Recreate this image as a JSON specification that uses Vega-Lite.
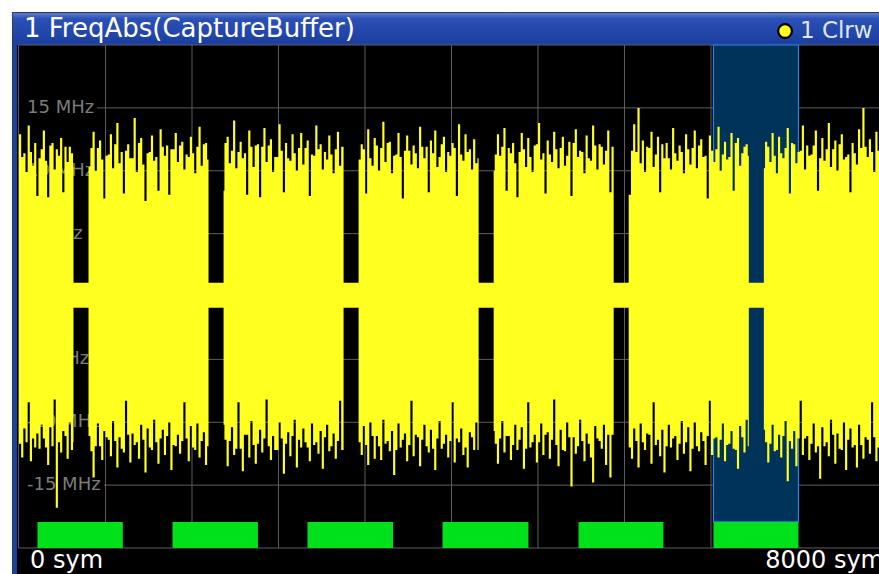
{
  "$schema": "https://vega.github.io/schema/vega-lite/v6.json",
  "width": 860,
  "height": 503,
  "autosize": {"type": "none"},
  "padding": {"left": 19, "top": 45, "right": 0, "bottom": 26},
  "background": "white",
  "config": {"view": {"stroke": null, "fill": "black"}},
  "data": {"values": [{}]},
  "datasets": {
    "trace": [
      {"s":0,"h":12.9,"l":-11.7},{"s":20,"h":11.1,"l":-12.8},{"s":40,"h":11.4,"l":-10.5},{"s":60,"h":9.9,"l":-11.6},{"s":80,"h":13.6,"l":-8.4},{"s":100,"h":11.5,"l":-13.1},{"s":120,"h":10.4,"l":-11.3},{"s":140,"h":12.2,"l":-12.0},{"s":160,"h":8.0,"l":-10.9},{"s":180,"h":11.0,"l":-12.1},{"s":200,"h":11.7,"l":-10.2},{"s":220,"h":13.2,"l":-11.3},{"s":240,"h":10.8,"l":-12.0},{"s":260,"h":7.9,"l":-13.4},{"s":280,"h":12.0,"l":-10.4},{"s":300,"h":12.2,"l":-11.9},{"s":320,"h":10.1,"l":-8.2},{"s":340,"h":11.7,"l":-16.8},{"s":360,"h":11.2,"l":-11.6},{"s":380,"h":12.6,"l":-12.4},{"s":400,"h":8.3,"l":-10.7},{"s":420,"h":11.9,"l":-11.1},{"s":440,"h":10.7,"l":-12.9},{"s":460,"h":11.9,"l":-10.0},{"s":480,"h":11.4,"l":-12.2},{"s":500,"h":10.3,"l":-11.6},
      {"s":504,"h":1.1,"l":-0.9},
      {"s":643,"h":10.3,"l":-11.1},{"s":660,"h":11.8,"l":-12.3},{"s":680,"h":13.1,"l":-14.4},{"s":700,"h":10.0,"l":-11.9},{"s":720,"h":11.8,"l":-10.1},{"s":740,"h":12.4,"l":-11.9},{"s":760,"h":10.9,"l":-13.0},{"s":780,"h":7.8,"l":-10.7},{"s":800,"h":11.2,"l":-11.2},{"s":820,"h":11.3,"l":-11.4},
      {"s":840,"h":12.9,"l":-12.7},{"s":860,"h":10.2,"l":-9.9},{"s":880,"h":12.1,"l":-11.5},{"s":900,"h":13.8,"l":-13.6},{"s":920,"h":10.6,"l":-11.2},{"s":940,"h":11.5,"l":-12.1},{"s":960,"h":8.2,"l":-12.4},{"s":980,"h":11.6,"l":-8.3},{"s":1000,"h":12.1,"l":-11.0},{"s":1020,"h":11.0,"l":-13.2},
      {"s":1040,"h":11.0,"l":-10.9},{"s":1060,"h":14.2,"l":-11.8},{"s":1080,"h":9.9,"l":-11.6},{"s":1100,"h":12.2,"l":-12.9},{"s":1120,"h":12.6,"l":-10.2},{"s":1140,"h":10.5,"l":-11.4},{"s":1160,"h":7.6,"l":-14.0},{"s":1180,"h":11.4,"l":-10.5},{"s":1200,"h":11.5,"l":-12.0},{"s":1220,"h":12.8,"l":-12.2},
      {"s":1240,"h":10.8,"l":-9.8},{"s":1260,"h":11.1,"l":-11.6},{"s":1280,"h":8.4,"l":-13.3},{"s":1300,"h":13.3,"l":-11.3},{"s":1320,"h":11.9,"l":-10.6},{"s":1340,"h":11.2,"l":-12.6},{"s":1360,"h":12.0,"l":-11.1},{"s":1380,"h":8.1,"l":-10.0},{"s":1400,"h":11.7,"l":-13.8},{"s":1420,"h":11.7,"l":-11.8},
      {"s":1440,"h":13.0,"l":-11.9},{"s":1460,"h":10.7,"l":-11.0},{"s":1480,"h":12.0,"l":-12.5},{"s":1500,"h":12.3,"l":-11.5},{"s":1520,"h":10.1,"l":-8.4},{"s":1540,"h":11.3,"l":-11.3},{"s":1560,"h":11.1,"l":-13.1},{"s":1580,"h":12.7,"l":-10.3},{"s":1600,"h":11.4,"l":-12.0},{"s":1620,"h":9.8,"l":-12.2},
      {"s":1640,"h":11.9,"l":-10.1},{"s":1660,"h":13.5,"l":-12.8},{"s":1680,"h":10.4,"l":-11.5},{"s":1700,"h":12.1,"l":-10.8},{"s":1720,"h":12.2,"l":-13.4},{"s":1740,"h":10.9,"l":-11.9},
      {"s":1753,"h":1.1,"l":-0.9},
      {"s":1892,"h":8.4,"l":-10.2},{"s":1900,"h":12.2,"l":-11.4},{"s":1920,"h":12.7,"l":-13.5},{"s":1940,"h":10.6,"l":-11.5},{"s":1960,"h":11.6,"l":-10.4},{"s":1980,"h":14.0,"l":-12.6},{"s":2000,"h":10.2,"l":-12.1},{"s":2020,"h":11.5,"l":-8.4},{"s":2040,"h":12.3,"l":-12.1},{"s":2060,"h":11.0,"l":-13.9},
      {"s":2080,"h":11.4,"l":-11.0},{"s":2100,"h":8.1,"l":-11.0},{"s":2120,"h":13.2,"l":-12.8},{"s":2140,"h":11.9,"l":-9.9},{"s":2160,"h":10.3,"l":-11.8},{"s":2180,"h":12.0,"l":-13.3},{"s":2200,"h":12.1,"l":-11.7},{"s":2220,"h":7.9,"l":-10.6},{"s":2240,"h":11.9,"l":-12.4},{"s":2260,"h":13.4,"l":-11.3},
      {"s":2280,"h":10.7,"l":-8.2},{"s":2300,"h":12.0,"l":-11.9},{"s":2320,"h":12.5,"l":-13.0},{"s":2340,"h":9.9,"l":-11.1},{"s":2360,"h":11.1,"l":-12.2},{"s":2380,"h":11.1,"l":-12.2},{"s":2400,"h":13.7,"l":-10.0},{"s":2420,"h":11.6,"l":-11.3},{"s":2440,"h":8.3,"l":-14.1},{"s":2460,"h":12.2,"l":-11.7},
      {"s":2480,"h":11.0,"l":-10.8},{"s":2500,"h":10.8,"l":-12.7},{"s":2520,"h":12.9,"l":-11.1},{"s":2540,"h":11.4,"l":-9.8},{"s":2560,"h":10.0,"l":-13.6},{"s":2580,"h":11.8,"l":-11.4},{"s":2600,"h":13.0,"l":-12.0},{"s":2620,"h":10.5,"l":-10.5},{"s":2640,"h":11.8,"l":-11.6},{"s":2660,"h":12.4,"l":-12.0},
      {"s":2680,"h":8.0,"l":-13.1},{"s":2700,"h":11.3,"l":-10.1},{"s":2720,"h":11.2,"l":-11.8},{"s":2740,"h":13.6,"l":-11.6},{"s":2760,"h":11.7,"l":-12.5},{"s":2780,"h":12.1,"l":-10.7},{"s":2800,"h":10.1,"l":-13.7},{"s":2820,"h":11.5,"l":-11.2},{"s":2840,"h":10.9,"l":-10.2},{"s":2860,"h":12.8,"l":-12.3},
      {"s":2880,"h":11.3,"l":-11.9},{"s":2900,"h":9.8,"l":-10.9},{"s":2920,"h":11.7,"l":-12.9},{"s":2940,"h":13.1,"l":-11.5},{"s":2960,"h":10.4,"l":-8.3},{"s":2980,"h":11.9,"l":-12.2},
      {"s":3002,"h":1.1,"l":-0.9},
      {"s":3141,"h":10.9,"l":-11.6},{"s":3160,"h":12.1,"l":-12.6},{"s":3180,"h":11.7,"l":-10.3},{"s":3200,"h":8.2,"l":-11.8},{"s":3220,"h":13.3,"l":-13.4},{"s":3240,"h":11.0,"l":-10.0},{"s":3260,"h":10.4,"l":-11.1},{"s":3280,"h":12.6,"l":-12.9},{"s":3300,"h":12.0,"l":-11.1},{"s":3320,"h":10.0,"l":-11.9},
      {"s":3340,"h":11.8,"l":-13.0},{"s":3360,"h":13.9,"l":-9.8},{"s":3380,"h":10.7,"l":-11.7},{"s":3400,"h":12.2,"l":-11.5},{"s":3420,"h":12.3,"l":-12.3},{"s":3440,"h":9.8,"l":-10.7},{"s":3460,"h":11.2,"l":-14.2},{"s":3480,"h":11.3,"l":-12.2},{"s":3500,"h":13.0,"l":-10.1},{"s":3520,"h":11.1,"l":-12.0},
      {"s":3540,"h":7.8,"l":-11.4},{"s":3560,"h":11.6,"l":-10.9},{"s":3580,"h":12.8,"l":-13.1},{"s":3600,"h":11.6,"l":-11.8},{"s":3620,"h":10.5,"l":-8.3},{"s":3640,"h":12.0,"l":-12.7},{"s":3660,"h":11.4,"l":-11.0},{"s":3680,"h":10.2,"l":-11.2},{"s":3700,"h":13.5,"l":-13.5},{"s":3720,"h":11.9,"l":-11.4},
      {"s":3740,"h":11.0,"l":-10.2},{"s":3760,"h":11.9,"l":-11.9},{"s":3780,"h":8.3,"l":-12.4},{"s":3800,"h":12.4,"l":-10.6},{"s":3820,"h":11.4,"l":-12.1},{"s":3840,"h":13.2,"l":-13.8},{"s":3860,"h":10.3,"l":-11.3},{"s":3880,"h":11.1,"l":-9.9},{"s":3900,"h":12.1,"l":-12.1},{"s":3920,"h":12.7,"l":-11.7},
      {"s":3940,"h":9.9,"l":-11.0},{"s":3960,"h":11.5,"l":-12.8},{"s":3980,"h":11.2,"l":-11.5},{"s":4000,"h":12.2,"l":-8.4},{"s":4020,"h":11.8,"l":-13.2},{"s":4040,"h":8.0,"l":-11.3},{"s":4060,"h":13.7,"l":-11.6},{"s":4080,"h":11.3,"l":-10.5},{"s":4100,"h":10.8,"l":-12.6},{"s":4120,"h":12.9,"l":-12.0},
      {"s":4140,"h":11.5,"l":-13.6},{"s":4160,"h":11.7,"l":-10.8},{"s":4180,"h":10.1,"l":-11.2},{"s":4200,"h":12.5,"l":-12.2},{"s":4220,"h":10.6,"l":-10.0},{"s":4240,"h":11.0,"l":-12.2},
      {"s":4251,"h":1.1,"l":-0.9},
      {"s":4390,"h":10.0,"l":-10.7},{"s":4400,"h":11.3,"l":-11.7},{"s":4420,"h":12.9,"l":-13.3},{"s":4440,"h":11.2,"l":-11.3},{"s":4460,"h":11.9,"l":-9.9},{"s":4480,"h":13.4,"l":-12.4},{"s":4500,"h":8.4,"l":-11.1},{"s":4520,"h":11.8,"l":-11.1},{"s":4540,"h":11.4,"l":-13.0},{"s":4560,"h":12.2,"l":-11.8},
      {"s":4580,"h":10.6,"l":-10.2},{"s":4600,"h":7.9,"l":-12.2},{"s":4620,"h":11.5,"l":-11.4},{"s":4640,"h":13.0,"l":-10.4},{"s":4660,"h":11.7,"l":-13.7},{"s":4680,"h":10.3,"l":-12.1},{"s":4700,"h":12.6,"l":-8.4},{"s":4720,"h":11.1,"l":-12.0},{"s":4740,"h":9.9,"l":-11.6},{"s":4760,"h":12.0,"l":-11.0},
      {"s":4780,"h":12.1,"l":-13.2},{"s":4800,"h":13.8,"l":-11.6},{"s":4820,"h":10.9,"l":-10.1},{"s":4840,"h":11.4,"l":-12.6},{"s":4860,"h":8.2,"l":-11.0},{"s":4880,"h":12.4,"l":-10.8},{"s":4900,"h":11.3,"l":-12.9},{"s":4920,"h":10.7,"l":-11.4},{"s":4940,"h":13.1,"l":-8.2},{"s":4960,"h":11.7,"l":-11.8},
      {"s":4980,"h":10.2,"l":-13.5},{"s":5000,"h":11.8,"l":-10.6},{"s":5020,"h":12.7,"l":-12.2},{"s":5040,"h":10.4,"l":-12.3},{"s":5060,"h":11.2,"l":-10.0},{"s":5080,"h":12.3,"l":-11.2},{"s":5100,"h":8.0,"l":-15.1},{"s":5120,"h":12.2,"l":-11.2},{"s":5140,"h":13.3,"l":-12.5},{"s":5160,"h":11.1,"l":-11.9},
      {"s":5180,"h":11.6,"l":-9.8},{"s":5200,"h":11.5,"l":-11.5},{"s":5220,"h":9.8,"l":-13.1},{"s":5240,"h":12.8,"l":-10.9},{"s":5260,"h":11.0,"l":-11.7},{"s":5280,"h":10.8,"l":-12.8},{"s":5300,"h":13.6,"l":-14.8},{"s":5320,"h":12.0,"l":-10.3},{"s":5340,"h":10.1,"l":-11.3},{"s":5360,"h":12.1,"l":-11.5},
      {"s":5380,"h":11.9,"l":-12.1},{"s":5400,"h":10.5,"l":-10.2},{"s":5420,"h":11.6,"l":-13.4},{"s":5440,"h":13.2,"l":-11.0},{"s":5460,"h":8.3,"l":-14.4},{"s":5480,"h":11.9,"l":-11.0},
      {"s":5500,"h":1.1,"l":-0.9},
      {"s":5639,"h":8.1,"l":-12.0},{"s":5660,"h":11.6,"l":-12.9},{"s":5680,"h":13.7,"l":-10.5},{"s":5700,"h":11.5,"l":-11.5},{"s":5720,"h":15.0,"l":-13.6},{"s":5740,"h":10.6,"l":-10.1},{"s":5760,"h":12.4,"l":-11.6},{"s":5780,"h":9.9,"l":-12.2},{"s":5800,"h":11.9,"l":-10.9},{"s":5820,"h":11.8,"l":-11.0},
      {"s":5840,"h":13.1,"l":-13.3},{"s":5860,"h":10.3,"l":-8.4},{"s":5880,"h":11.3,"l":-11.8},{"s":5900,"h":12.7,"l":-11.4},{"s":5920,"h":8.3,"l":-12.7},{"s":5940,"h":12.1,"l":-10.6},{"s":5960,"h":11.0,"l":-14.0},{"s":5980,"h":12.2,"l":-11.9},{"s":6000,"h":11.0,"l":-10.2},{"s":6020,"h":10.1,"l":-12.0},
      {"s":6040,"h":13.4,"l":-11.3},{"s":6060,"h":11.4,"l":-11.1},{"s":6080,"h":10.8,"l":-13.0},{"s":6100,"h":12.0,"l":-11.7},{"s":6120,"h":11.5,"l":-9.9},{"s":6140,"h":9.8,"l":-12.5},{"s":6160,"h":12.9,"l":-11.6},{"s":6180,"h":11.7,"l":-10.4},{"s":6200,"h":10.5,"l":-13.9},{"s":6220,"h":11.8,"l":-12.1},
      {"s":6240,"h":13.2,"l":-10.0},{"s":6260,"h":10.2,"l":-11.9},{"s":6280,"h":12.0,"l":-12.3},{"s":6300,"h":12.5,"l":-10.8},{"s":6320,"h":11.1,"l":-11.5},{"s":6340,"h":11.2,"l":-13.4},{"s":6360,"h":7.8,"l":-11.1},{"s":6380,"h":12.8,"l":-8.3},{"s":6400,"h":11.6,"l":-12.6},{"s":6420,"h":10.7,"l":-11.3},
      {"s":6440,"h":11.7,"l":-11.2},{"s":6460,"h":13.5,"l":-12.8},{"s":6480,"h":10.0,"l":-11.4},{"s":6500,"h":11.3,"l":-10.1},{"s":6520,"h":12.3,"l":-13.1},{"s":6540,"h":10.9,"l":-11.8},{"s":6560,"h":11.1,"l":-11.7},{"s":6580,"h":13.0,"l":-10.7},{"s":6600,"h":8.4,"l":-12.1},{"s":6620,"h":12.2,"l":-12.2},
      {"s":6640,"h":12.6,"l":-13.7},{"s":6660,"h":10.4,"l":-10.3},{"s":6680,"h":11.4,"l":-11.2},{"s":6700,"h":11.9,"l":-12.4},{"s":6720,"h":12.1,"l":-9.8},{"s":6740,"h":11.2,"l":-11.9},
      {"s":6750,"h":1.1,"l":-0.9},
      {"s":6889,"h":10.2,"l":-10.6},{"s":6900,"h":12.3,"l":-11.6},{"s":6920,"h":11.9,"l":-13.2},{"s":6940,"h":10.7,"l":-11.7},{"s":6960,"h":13.0,"l":-10.2},{"s":6980,"h":11.2,"l":-12.3},{"s":7000,"h":9.8,"l":-12.2},{"s":7020,"h":12.7,"l":-11.0},{"s":7040,"h":11.4,"l":-12.8},{"s":7060,"h":11.0,"l":-11.1},
      {"s":7080,"h":11.8,"l":-9.9},{"s":7100,"h":13.4,"l":-14.7},{"s":7120,"h":8.2,"l":-11.5},{"s":7140,"h":12.2,"l":-12.1},{"s":7160,"h":12.1,"l":-10.7},{"s":7180,"h":10.6,"l":-13.5},{"s":7200,"h":11.5,"l":-11.3},{"s":7220,"h":11.6,"l":-8.3},{"s":7240,"h":13.6,"l":-12.6},{"s":7260,"h":10.1,"l":-11.3},
      {"s":7280,"h":12.0,"l":-11.1},{"s":7300,"h":11.2,"l":-13.0},{"s":7320,"h":11.3,"l":-11.7},{"s":7340,"h":12.0,"l":-10.1},{"s":7360,"h":13.2,"l":-12.4},{"s":7380,"h":8.4,"l":-11.9},{"s":7400,"h":11.0,"l":-14.5},{"s":7420,"h":12.6,"l":-10.4},{"s":7440,"h":10.8,"l":-11.9},{"s":7460,"h":11.7,"l":-11.6},
      {"s":7480,"h":13.8,"l":-12.7},{"s":7500,"h":10.3,"l":-9.8},{"s":7520,"h":11.7,"l":-11.0},{"s":7540,"h":12.4,"l":-13.3},{"s":7560,"h":10.0,"l":-10.9},{"s":7580,"h":12.1,"l":-12.1},{"s":7600,"h":12.9,"l":-12.2},{"s":7620,"h":10.9,"l":-10.0},{"s":7640,"h":11.1,"l":-13.8},{"s":7660,"h":11.3,"l":-11.4},
      {"s":7680,"h":8.3,"l":-10.5},{"s":7700,"h":12.2,"l":-12.0},{"s":7720,"h":11.4,"l":-11.8},{"s":7740,"h":10.5,"l":-13.6},{"s":7760,"h":13.3,"l":-10.2},{"s":7780,"h":11.8,"l":-11.8},{"s":7800,"h":15.0,"l":-12.9},{"s":7820,"h":11.9,"l":-11.2},{"s":7840,"h":11.1,"l":-11.4},{"s":7860,"h":12.5,"l":-12.5},
      {"s":7880,"h":11.5,"l":-8.4},{"s":7900,"h":9.9,"l":-11.2},{"s":7920,"h":13.1,"l":-13.1},{"s":7940,"h":11.6,"l":-12.0},{"s":7960,"h":12.0,"l":-10.8}
    ],
    "green": [{"a":171,"b":960},{"a":1420,"b":2210},{"a":2668,"b":3460},{"a":3917,"b":4712},{"a":5175,"b":5960},{"a":6423,"b":7209}],
    "gridv": [{"s":800},{"s":1600},{"s":2400},{"s":3200},{"s":4000},{"s":4800},{"s":5600},{"s":6400},{"s":7200}],
    "gridh": [{"v":15,"x0":722},{"v":10,"x0":722},{"v":5,"x0":654},{"v":0,"x0":654},{"v":-5,"x0":722},{"v":-10,"x0":786},{"v":-15,"x0":786}],
    "ylab": [{"v":15,"t":"15 MHz"},{"v":10,"t":"10 MHz"},{"v":5,"t":"5 MHz"},{"v":0,"t":"0 MHz"},{"v":-5,"t":"-5 MHz"},{"v":-10,"t":"-10 MHz"},{"v":-15,"t":"-15 MHz"}]
  },
  "layer": [
    {
      "mark": {"type": "rect", "fill": "#3a3a3a"},
      "encoding": {
        "x": {"datum": -65, "type": "quantitative", "scale": {"domain": [0, 7954], "nice": false, "zero": false}, "axis": null},
        "x2": {"datum": 8200},
        "y": {"datum": 22.63, "type": "quantitative", "scale": {"domain": [-20, 20], "nice": false, "zero": false}, "axis": null},
        "y2": {"datum": -22.4}
      }
    },
    {
      "mark": {"type": "rect", "fill": "#1d42a3"},
      "encoding": {
        "x": {"datum": -57, "type": "quantitative", "scale": {"domain": [0, 7954], "nice": false, "zero": false}, "axis": null},
        "x2": {"datum": 8200},
        "y": {"datum": 22.55, "type": "quantitative", "scale": {"domain": [-20, 20], "nice": false, "zero": false}, "axis": null},
        "y2": {"datum": -22.4}
      }
    },
    {
      "mark": {"type": "rect", "fill": {"x1": 0, "y1": 0, "x2": 0, "y2": 1, "gradient": "linear", "stops": [{"offset": 0, "color": "#5b7bd6"}, {"offset": 0.18, "color": "#2b50b6"}, {"offset": 1, "color": "#1b3e9f"}]}},
      "encoding": {
        "x": {"datum": -57, "type": "quantitative", "scale": {"domain": [0, 7954], "nice": false, "zero": false}, "axis": null},
        "x2": {"datum": 8200},
        "y": {"datum": 22.55, "type": "quantitative", "scale": {"domain": [-20, 20], "nice": false, "zero": false}, "axis": null},
        "y2": {"datum": 20}
      }
    },
    {
      "mark": {"type": "rect", "fill": "#000000"},
      "encoding": {
        "x": {"datum": -19, "type": "quantitative", "scale": {"domain": [0, 7954], "nice": false, "zero": false}, "axis": null},
        "x2": {"datum": 8200},
        "y": {"datum": 20, "type": "quantitative", "scale": {"domain": [-20, 20], "nice": false, "zero": false}, "axis": null},
        "y2": {"datum": -22.4}
      }
    },
    {
      "mark": {"type": "rect", "fill": null, "stroke": "#5f5f5f", "strokeWidth": 1},
      "encoding": {
        "x": {"datum": -4, "type": "quantitative", "scale": {"domain": [0, 7954], "nice": false, "zero": false}, "axis": null},
        "x2": {"datum": 8200},
        "y": {"datum": 20, "type": "quantitative", "scale": {"domain": [-20, 20], "nice": false, "zero": false}, "axis": null},
        "y2": {"datum": -20}
      }
    },
    {
      "data": {"name": "gridv"},
      "mark": {"type": "rule", "color": "#5f5f5f", "strokeWidth": 1},
      "encoding": {
        "x": {"field": "s", "type": "quantitative", "scale": {"domain": [0, 7954], "nice": false, "zero": false}, "axis": null},
        "y": {"datum": 20, "type": "quantitative", "scale": {"domain": [-20, 20], "nice": false, "zero": false}, "axis": null},
        "y2": {"datum": -20}
      }
    },
    {
      "data": {"name": "gridh"},
      "mark": {"type": "rule", "color": "#5f5f5f", "strokeWidth": 1},
      "encoding": {
        "x": {"field": "x0", "type": "quantitative", "scale": {"domain": [0, 7954], "nice": false, "zero": false}, "axis": null},
        "x2": {"datum": 8200},
        "y": {"field": "v", "type": "quantitative", "scale": {"domain": [-20, 20], "nice": false, "zero": false}, "axis": null}
      }
    },
    {
      "mark": {"type": "rect", "fill": "#00335a", "stroke": "#1a86f0", "strokeWidth": 1.2},
      "encoding": {
        "x": {"datum": 6423, "type": "quantitative", "scale": {"domain": [0, 7954], "nice": false, "zero": false}, "axis": null},
        "x2": {"datum": 7209},
        "y": {"datum": 20, "type": "quantitative", "scale": {"domain": [-20, 20], "nice": false, "zero": false}, "axis": null},
        "y2": {"datum": -17.93}
      }
    },
    {
      "data": {"name": "ylab"},
      "mark": {"type": "text", "align": "left", "baseline": "middle", "font": "DejaVu Sans", "fontSize": 18, "color": "#7c7c7c"},
      "encoding": {
        "x": {"datum": 74, "type": "quantitative", "scale": {"domain": [0, 7954], "nice": false, "zero": false}, "axis": null},
        "y": {"field": "v", "type": "quantitative", "scale": {"domain": [-20, 20], "nice": false, "zero": false}, "axis": null},
        "text": {"field": "t"}
      }
    },
    {
      "data": {"name": "trace"},
      "mark": {"type": "area", "interpolate": "step-after", "color": "#ffff20", "opacity": 1},
      "encoding": {
        "x": {"field": "s", "type": "quantitative", "scale": {"domain": [0, 7954], "nice": false, "zero": false}, "axis": null},
        "y": {"field": "h", "type": "quantitative", "scale": {"domain": [-20, 20], "nice": false, "zero": false}, "axis": null},
        "y2": {"field": "l"}
      }
    },
    {
      "data": {"name": "green"},
      "mark": {"type": "rect", "fill": "#00e01b"},
      "encoding": {
        "x": {"field": "a", "type": "quantitative", "scale": {"domain": [0, 7954], "nice": false, "zero": false}, "axis": null},
        "x2": {"field": "b"},
        "y": {"datum": -17.93, "type": "quantitative", "scale": {"domain": [-20, 20], "nice": false, "zero": false}, "axis": null},
        "y2": {"datum": -20}
      }
    },
    {
      "mark": {"type": "text", "text": "1 FreqAbs(CaptureBuffer)", "align": "left", "baseline": "alphabetic", "font": "DejaVu Sans", "fontSize": 26, "color": "#ffffff"},
      "encoding": {
        "x": {"datum": 46, "type": "quantitative", "scale": {"domain": [0, 7954], "nice": false, "zero": false}, "axis": null},
        "y": {"datum": 20.6, "type": "quantitative", "scale": {"domain": [-20, 20], "nice": false, "zero": false}, "axis": null}
      }
    },
    {
      "mark": {"type": "point", "shape": "circle", "filled": true, "size": 190, "fill": "#ffff20", "stroke": "#000000", "strokeWidth": 2.2, "opacity": 1},
      "encoding": {
        "x": {"datum": 7085, "type": "quantitative", "scale": {"domain": [0, 7954], "nice": false, "zero": false}, "axis": null},
        "y": {"datum": 21.11, "type": "quantitative", "scale": {"domain": [-20, 20], "nice": false, "zero": false}, "axis": null}
      }
    },
    {
      "mark": {"type": "text", "text": "1 Clrw", "align": "left", "baseline": "alphabetic", "font": "DejaVu Sans", "fontSize": 23, "color": "#dfe5f2"},
      "encoding": {
        "x": {"datum": 7223, "type": "quantitative", "scale": {"domain": [0, 7954], "nice": false, "zero": false}, "axis": null},
        "y": {"datum": 20.557, "type": "quantitative", "scale": {"domain": [-20, 20], "nice": false, "zero": false}, "axis": null}
      }
    },
    {
      "mark": {"type": "text", "text": "0 sym", "align": "left", "baseline": "alphabetic", "font": "DejaVu Sans", "fontSize": 24, "color": "#ffffff"},
      "encoding": {
        "x": {"datum": 102, "type": "quantitative", "scale": {"domain": [0, 7954], "nice": false, "zero": false}, "axis": null},
        "y": {"datum": -21.59, "type": "quantitative", "scale": {"domain": [-20, 20], "nice": false, "zero": false}, "axis": null}
      }
    },
    {
      "mark": {"type": "text", "text": "8000 sym", "align": "right", "baseline": "alphabetic", "font": "DejaVu Sans", "fontSize": 24, "color": "#ffffff"},
      "encoding": {
        "x": {"datum": 8000, "type": "quantitative", "scale": {"domain": [0, 7954], "nice": false, "zero": false}, "axis": null},
        "y": {"datum": -21.59, "type": "quantitative", "scale": {"domain": [-20, 20], "nice": false, "zero": false}, "axis": null}
      }
    }
  ]
}
